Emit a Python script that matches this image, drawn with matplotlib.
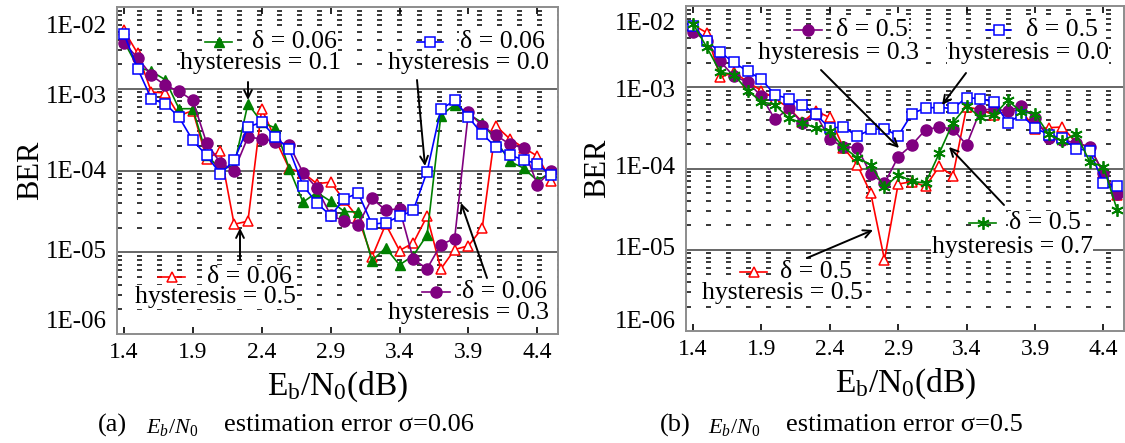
import matplotlib.pyplot as plt
from matplotlib.lines import Line2D
from matplotlib.ticker import FixedLocator, LogLocator, NullFormatter

plt.rcParams['font.family'] = ['Liberation Serif', 'DejaVu Serif']
plt.rcParams['mathtext.fontset'] = 'custom'
plt.rcParams['mathtext.rm'] = 'Liberation Serif'
plt.rcParams['mathtext.it'] = 'Liberation Serif:italic'
plt.rcParams['lines.scale_dashes'] = False

W, H = 1125, 443

# Eb/N0 grid (dB)
ebn0 = [1.4, 1.5, 1.6, 1.7, 1.8, 1.9, 2.0, 2.1, 2.2, 2.3, 2.4, 2.5, 2.6, 2.7, 2.8, 2.9,
        3.0, 3.1, 3.2, 3.3, 3.4, 3.5, 3.6, 3.7, 3.8, 3.9, 4.0, 4.1, 4.2, 4.3, 4.4, 4.5]

# (a) delta = 0.06
a_h01 = [3.8e-3, 1.84e-3, 1.63e-3, 1.29e-3, 5.7e-4, 5.7e-4, 1.56e-4, 1.03e-4, 1.15e-4, 6.55e-4,
         3.9e-4, 3.3e-4, 1.05e-4, 4.1e-5, 5.4e-5, 4.2e-5, 3.15e-5, 3.1e-5, 7.9e-6, 1.13e-5,
         7.0e-6, 9.1e-6, 1.63e-5, 4.7e-4, 6.4e-4, 4.9e-4, 3.85e-4, 2.33e-4, 1.29e-4, 1.07e-4,
         7.5e-5, 9.5e-5]
a_h00 = [4.7e-3, 1.76e-3, 7.5e-4, 6.55e-4, 4.5e-4, 2.33e-4, 1.53e-4, 9.1e-5, 1.33e-4, 3.4e-4,
         3.9e-4, 2.56e-4, 1.81e-4, 6.55e-5, 4.0e-5, 2.8e-5, 4.5e-5, 5.3e-5, 2.2e-5, 2.3e-5,
         2.75e-5, 3.25e-5, 9.7e-5, 5.6e-4, 7.2e-4, 4.5e-4, 2.8e-4, 1.93e-4, 1.53e-4, 1.36e-4,
         1.2e-4, 8.7e-5]
a_h05 = [5.2e-3, 2.7e-3, 9.1e-4, 8.9e-4, 4.7e-4, 5.4e-4, 1.39e-4, 1.72e-4, 2.2e-5, 2.4e-5,
         5.7e-4, 2.4e-4, 1.05e-4, 9.4e-5, 6.9e-5, 7.2e-5, 4.3e-5, 2.63e-5, 8.7e-6, 2.2e-5,
         1.05e-5, 1.3e-5, 2.76e-5, 6.25e-6, 1.08e-5, 1.2e-5, 1.97e-5, 3.5e-4, 2.44e-4, 1.9e-4,
         1.5e-4, 7.5e-5]
a_h03 = [3.66e-3, 2.38e-3, 1.46e-3, 1.1e-3, 9.3e-4, 7.2e-4, 2.18e-4, 1.24e-4, 1.0e-4, 2.56e-4,
         2.44e-4, 2.26e-4, 2.06e-4, 9.4e-5, 6.1e-5, 2.84e-5, 2.4e-5, 2.18e-5, 4.55e-5, 3.27e-5,
         3.4e-5, 8.2e-6, 6.3e-6, 1.24e-5, 1.47e-5, 5.2e-4, 3.5e-4, 2.7e-4, 2.1e-4, 1.88e-4,
         6.7e-5, 9.9e-5]

# (b) delta = 0.5
b_h05 = [5.85e-3, 4.71e-3, 1.32e-3, 1.54e-3, 1.16e-3, 9.1e-4, 7.2e-4, 5.58e-4, 3.73e-4, 5.08e-4,
         4.25e-4, 1.81e-4, 1.12e-4, 4.94e-5, 7.55e-6, 6.43e-5, 6.9e-5, 6.02e-5, 1.06e-4, 8.13e-5,
         5.69e-4, 5.33e-4, 4.54e-4, 5.18e-4, 5.18e-4, 3.06e-4, 3.18e-4, 3.24e-4, 2.08e-4, 1.81e-4,
         8.77e-5, 4.76e-5]
b_h03 = [4.85e-3, 3.72e-3, 2.08e-3, 1.36e-3, 1.16e-3, 7.76e-4, 4.02e-4, 5.48e-4, 3.66e-4, 4.63e-4,
         2.29e-4, 1.84e-4, 1.81e-4, 8.53e-5, 6.55e-5, 1.39e-4, 1.95e-4, 3.0e-4, 3.24e-4, 3.06e-4,
         1.95e-4, 5.18e-4, 5.43e-4, 5.08e-4, 5.85e-4, 4.21e-4, 2.35e-4, 2.22e-4, 2.08e-4, 1.84e-4,
         8.77e-5, 4.85e-5]
b_h00 = [5.74e-3, 3.72e-3, 2.69e-3, 2.02e-3, 1.57e-3, 1.26e-3, 8.05e-4, 7.26e-4, 6.08e-4, 4.63e-4,
         3.12e-4, 3.27e-4, 2.49e-4, 3.03e-4, 3.09e-4, 2.52e-4, 4.71e-4, 5.58e-4, 5.63e-4, 5.48e-4,
         7.47e-4, 7.2e-4, 6.61e-4, 3.66e-4, 4.59e-4, 3.15e-4, 2.61e-4, 2.35e-4, 1.76e-4, 1.65e-4,
         6.61e-5, 6.02e-5]
b_h07 = [6.08e-3, 3.15e-3, 1.53e-3, 1.43e-3, 9.1e-4, 6.67e-4, 6.08e-4, 4.17e-4, 3.62e-4, 3.15e-4,
         2.86e-4, 1.83e-4, 1.36e-4, 1.11e-4, 5.85e-5, 8.36e-5, 6.95e-5, 6.61e-5, 1.54e-4, 3.66e-4,
         5.85e-4, 4.29e-4, 4.54e-4, 6.87e-4, 4.99e-4, 4.71e-4, 2.63e-4, 2.18e-4, 2.68e-4, 1.21e-4,
         1.05e-4, 3.09e-5]

xticks = [1.4, 1.9, 2.4, 2.9, 3.4, 3.9, 4.4]
ydecades = [1e-2, 1e-3, 1e-4, 1e-5, 1e-6]
ytexts = ['1E-02', '1E-03', '1E-04', '1E-05', '1E-06']

sty = {
    'h05': dict(color='red', marker='^', mfc='white', mec='red', ms=7.5, mew=1.1),
    'h01': dict(color='green', marker='^', mfc='green', mec='green', ms=7.5),
    'h03': dict(color='purple', marker='o', mfc='purple', mec='purple', ms=8),
    'h00': dict(color='blue', marker='s', mfc='white', mec='blue', ms=7, mew=1.1),
    'h07': dict(color='green', marker=(6, 2, 0), mec='green', ms=9, mew=1.3),
}

fig = plt.figure(figsize=(W / 100, H / 100), dpi=100)
ax1 = fig.add_axes([117 / W, 1 - 334 / H, 441 / W, 327 / H])
ax2 = fig.add_axes([686 / W, 1 - 331 / H, 438 / W, 325 / H])


def setup(ax, shifts, ylab_x):
    ax.set_yscale('log')
    ax.set_ylim(1e-6, 1e-2)
    ax.set_xlim(1.35, 4.55)
    ax.set_xticks(xticks)
    ax.set_xticklabels([f'{t:.1f}' for t in xticks], fontsize=17)
    ax.tick_params(axis='x', direction='in', top=True, length=5, width=1.2, pad=6, color='black')
    ax.yaxis.set_major_locator(FixedLocator([1e-5, 1e-4, 1e-3]))
    ax.yaxis.set_minor_locator(LogLocator(base=10, subs=[2, 3, 4, 5, 6, 7, 8, 9]))
    ax.yaxis.set_minor_formatter(NullFormatter())
    ax.tick_params(axis='y', which='both', length=0, labelleft=False)
    ax.grid(axis='y', which='major', color='#5a5a5a', lw=1.3, ls='-')
    ax.grid(axis='y', which='minor', color='black', lw=1.1, ls=(0, (3.6, 10.8)))
    ax.set_axisbelow(True)
    for sp in ax.spines.values():
        sp.set_color('#8c8c8c')
        sp.set_linewidth(1.4)
    for val, txt, dy in zip(ydecades, ytexts, shifts):
        ax.annotate(txt, xy=(0, val), xycoords=('axes fraction', 'data'),
                    xytext=(-7, -dy * 0.72), textcoords='offset points',
                    ha='right', va='center', fontsize=18)
    ax.set_ylabel('BER', fontsize=22)
    ax.yaxis.set_label_coords(ylab_x, 0.5)
    ax.set_xlabel(r'$\mathrm{E_b/N_0}$(dB)', fontsize=24)
    ax.xaxis.set_label_coords(0.5, -0.11)


setup(ax1, [20, 8, 1, 0, -12], -0.163)
setup(ax2, [18, 4, 0, -1, -9], -0.169)

ax1.plot(ebn0, a_h05, lw=1.2, **sty['h05'])
ax1.plot(ebn0, a_h01, lw=1.2, **sty['h01'])
ax1.plot(ebn0, a_h03, lw=1.2, **sty['h03'])
ax1.plot(ebn0, a_h00, lw=1.2, **sty['h00'])

ax2.plot(ebn0, b_h05, lw=1.2, **sty['h05'])
ax2.plot(ebn0, b_h03, lw=1.2, **sty['h03'])
ax2.plot(ebn0, b_h00, lw=1.2, **sty['h00'])
ax2.plot(ebn0, b_h07, lw=1.2, **sty['h07'])


def fp(x, y):
    # figure pixels measured from the top-left corner
    return (x, H - y)


def label(ax, key, x0, x1, y, dx, hx, hy, delta, hyst, tail, tip):
    kx = [x0 / W, x1 / W]
    ky = [1 - y / H, 1 - y / H]
    fig.add_artist(Line2D(kx, ky, transform=fig.transFigure, color=sty[key]['color'], lw=1.2))
    m = {k: v for k, v in sty[key].items() if k != 'color'}
    fig.add_artist(Line2D([(x0 + x1) / 2 / W], [1 - y / H], transform=fig.transFigure,
                          ls='none', color=sty[key]['color'], **m))
    box = dict(facecolor='white', edgecolor='none', pad=0.5)
    fig.text(dx / W, 1 - y / H, 'δ = ' + delta, ha='left', va='center', fontsize=18.5, bbox=box)
    fig.text(hx / W, 1 - hy / H, 'hysteresis = ' + hyst, ha='center', va='center',
             fontsize=18.5, bbox=box)
    ax.annotate('', xy=fp(*tip), xycoords='figure pixels', xytext=fp(*tail),
                textcoords='figure pixels',
                arrowprops=dict(arrowstyle='->', lw=1.4, color='black', mutation_scale=14,
                                shrinkA=0, shrinkB=0))


label(ax1, 'h01', 205, 232, 42, 252, 261, 63, '0.06', '0.1', (248, 82), (248, 100))
label(ax1, 'h00', 417, 443, 42, 460, 469, 63, '0.06', '0.0', (417, 80), (425, 166))
label(ax1, 'h05', 158, 185, 277, 207, 215, 297, '0.06', '0.5', (240, 260), (240, 228))
label(ax1, 'h03', 422, 450, 292, 462, 469, 313, '0.06', '0.3', (487, 278), (461, 203))

label(ax2, 'h03', 794, 822, 30, 836, 839, 53, '0.5', '0.3', (821, 70), (899, 148))
label(ax2, 'h00', 986, 1011, 30, 1026, 1028, 53, '0.5', '0.0', (966, 73), (942, 105))
label(ax2, 'h07', 969, 996, 223, 1009, 1012, 247, '0.5', '0.7', (1004, 205), (949, 147))
label(ax2, 'h05', 740, 767, 272, 780, 782, 293, '0.5', '0.5', (807, 258), (873, 230))

# sub-figure captions
for x0, tag, sig in [(98, '(a)', '0.06'), (660, '(b)', '0.5')]:
    fig.text(x0 / W, 1 - 425 / H, tag, ha='left', va='center', fontsize=19)
    fig.text((x0 + 48) / W, 1 - 428 / H, r'$E_b/N_0$', ha='left', va='center', fontsize=16)
    fig.text((x0 + 126) / W, 1 - 425 / H, 'estimation error σ=' + sig, ha='left', va='center',
             fontsize=19)

fig.savefig('out.png', dpi=100)
